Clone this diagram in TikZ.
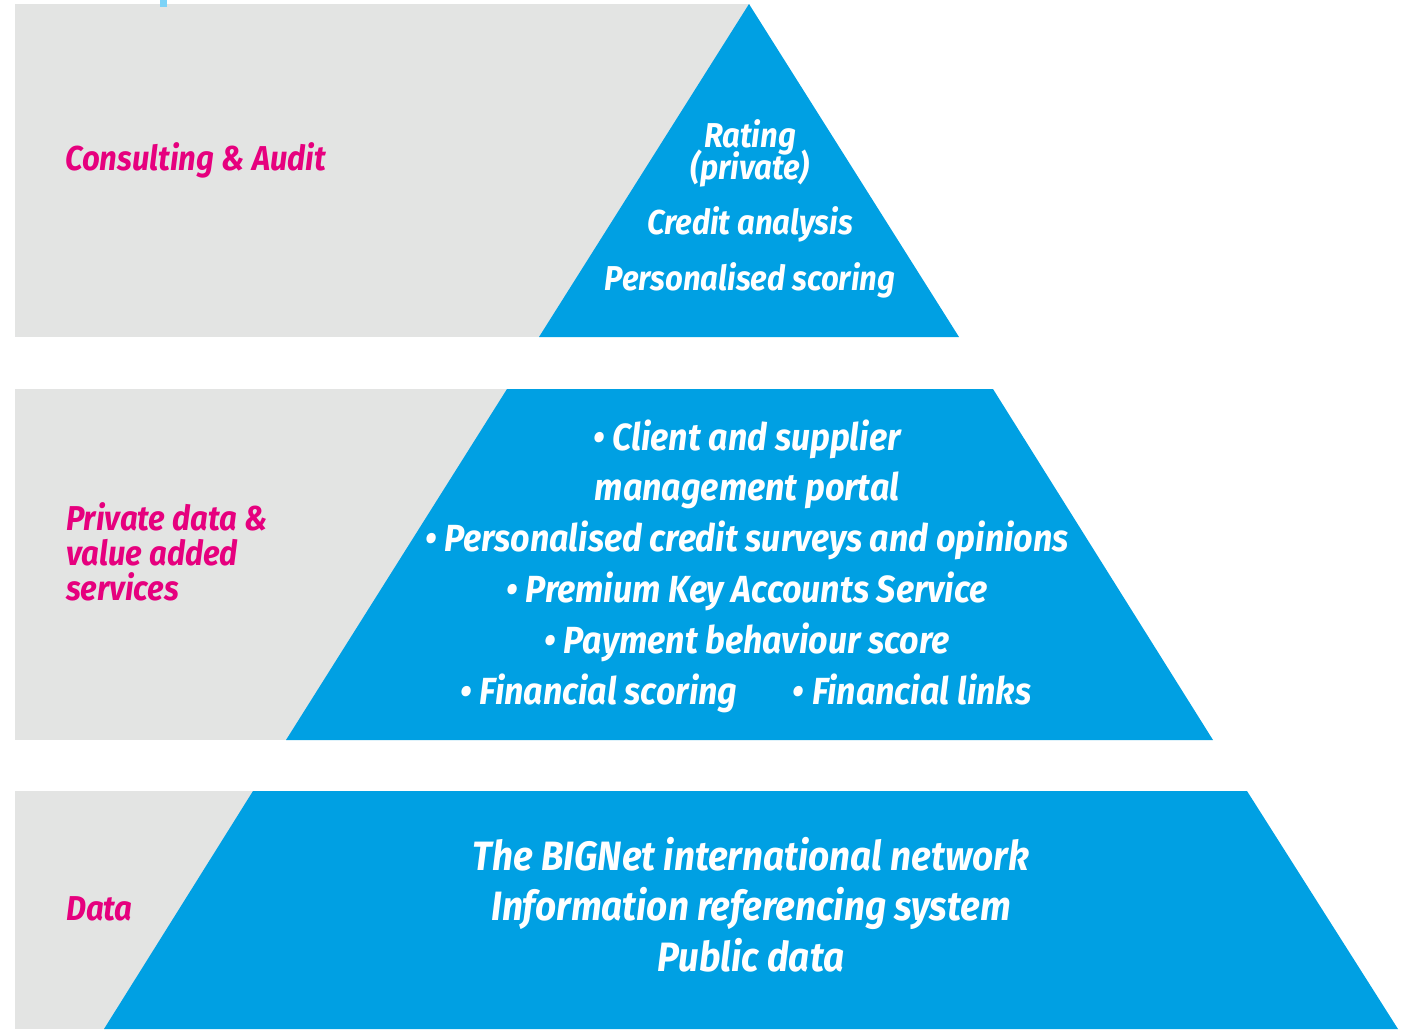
\documentclass[tikz,border=0pt]{standalone}
\usepackage{fontspec}
\setmainfont{Fira Sans}[FakeStretch=0.9]
\usetikzlibrary{positioning}

\definecolor{pyrblue}{RGB}{0,160,227}
\definecolor{bandgray}{RGB}{227,228,227}
\definecolor{levelpink}{RGB}{230,0,126}
\definecolor{tabblue}{RGB}{125,211,247}

\begin{document}
\begin{tikzpicture}[x=1pt,y=-1pt]

        \def\d{18.5pt}

        % Styles of the bands, the pyramid and its texts
        \tikzset{
            band/.style={fill=bandgray},
            tier/.style={fill=pyrblue},
            level/.style={text=levelpink, anchor=west, align=left,
                inner sep=0pt, font=\fontsize{34.5}{35}\selectfont\bfseries\itshape},
            entry/.style={text=white, inner sep=0pt, text height=23pt,
                text depth=9pt, font=\fontsize{37.8}{38}\selectfont\bfseries\itshape},
            topentry/.style={entry, font=\fontsize{34.5}{34}\selectfont\bfseries\itshape},
            baseentry/.style={entry, font=\fontsize{41}{40}\selectfont\bfseries\itshape}
        }

        \useasboundingbox (0,0) rectangle (1428,1029);

        % Grey bands behind the pyramid
        \fill[band] (15,4) rectangle (750,337);
        \fill[band] (15,389) rectangle (508,740);
        \fill[band] (15,791) rectangle (254,1029);
        \fill[tabblue] (160,0) rectangle (167,7);

        % The three tiers of the pyramid
        \fill[tier] (749,4) -- (959,337) -- (539,337) -- cycle;
        \fill[tier] (507,389) -- (993,389) -- (1213,740) -- (286,740) -- cycle;
        \fill[tier] (253,791) -- (1247,791) -- (1398,1029) -- (104,1029) -- cycle;

        % Names of the levels
        \node[level] (L1) at (65,160) {Consulting \& Audit};
        \node[level] (L2) at (66,552) {Private data \&\\value added\\services};
        \node[level] (L3) at (66,909) {Data};

        % Top tier
        \begin{scope}[every node/.style={topentry}]
            \node (T1) at (750,140) {Rating};
            \node (T1b) [below=0pt of T1] {(private)};
            \node (T2) [below=23pt of T1b] {Credit analysis};
            \node (T3) [below=23pt of T2] {Personalised scoring};
        \end{scope}

        % Middle tier
        \begin{scope}[every node/.style={entry}]
            \node (M1) at (747,443) {• Client and supplier};
            \node (M2) [below=\d of M1] {management portal};
            \node (M3) [below=\d of M2] {• Personalised credit surveys and opinions};
            \node (M4) [below=\d of M3] {• Premium Key Accounts Service};
            \node (M5) [below=\d of M4] {• Payment behaviour score};
            \node (M6) at (599,697) {• Financial scoring};
            \node (M7) at (912,697) {• Financial links};
        \end{scope}

        % Bottom tier
        \begin{scope}[every node/.style={baseentry}]
            \node (B1) at (751,863) {The BIGNet international network};
            \node (B2) [below=\d of B1] {Information referencing system};
            \node (B3) [below=\d of B2] {Public data};
        \end{scope}

\end{tikzpicture}
\end{document}
